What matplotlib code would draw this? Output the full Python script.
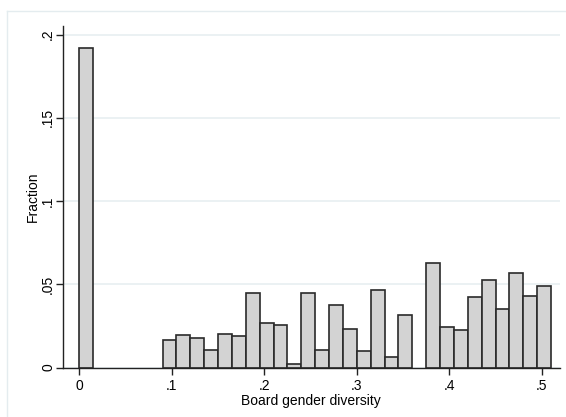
import numpy as np
import matplotlib
matplotlib.use("Agg")
import matplotlib.pyplot as plt
from matplotlib.lines import Line2D

# histogram of board gender diversity, bin width .015 starting at 0
bin_start = 0.0
bin_width = 0.015
fractions = [0.192, 0, 0, 0, 0, 0,
             0.0165, 0.0195, 0.0179, 0.0103, 0.0199, 0.0191,
             0.0447, 0.0269, 0.0253, 0.0023, 0.0447, 0.0103,
             0.0375, 0.0231, 0.0099, 0.0465, 0.0063, 0.0313,
             0, 0.0626, 0.0241, 0.0225, 0.0423, 0.0526,
             0.0353, 0.0570, 0.0429, 0.0488]

x_ticks = [0, 0.1, 0.2, 0.3, 0.4, 0.5]
x_ticklabels = ["0", ".1", ".2", ".3", ".4", ".5"]
y_ticks = [0, 0.05, 0.1, 0.15, 0.2]
y_ticklabels = ["0", ".05", ".1", ".15", ".2"]

plt.rcParams['font.family'] = ['Liberation Sans', 'DejaVu Sans']

fig = plt.figure(figsize=(5.66, 4.17), dpi=100)
# light outer frame of the graph region (top and left edges only visible)
frame = '#e4ecef'
fig.lines.append(Line2D([7 / 566, 1.0], [1 - 11 / 417, 1 - 11 / 417],
                        transform=fig.transFigure, color=frame, lw=1.0))
fig.lines.append(Line2D([7 / 566, 7 / 566], [0.0, 1 - 11 / 417],
                        transform=fig.transFigure, color=frame, lw=1.0))
ax = fig.add_axes([0.1108, 0.1187, 0.8786, 0.8189])

lefts = bin_start + bin_width * np.arange(len(fractions))
heights = np.array(fractions)
keep = heights > 0  # empty bins are not drawn
ax.bar(lefts[keep], heights[keep], width=bin_width, align='edge',
       color='#d3d3d3', edgecolor='#2a2a2a', linewidth=1.2, zorder=3)

ax.set_xlim(-0.018, 0.5197)
ax.set_ylim(0, 0.2051)
ax.set_xticks(x_ticks)
ax.set_xticklabels(x_ticklabels, fontsize=10)
ax.set_yticks(y_ticks)
ax.set_yticklabels(y_ticklabels, fontsize=10, rotation=90, va='center')
ax.tick_params(axis='both', length=5, width=1, color='#222222')
ax.tick_params(axis='x', pad=3)
ax.tick_params(axis='y', pad=0.5)
ax.grid(axis='y', color='#e8eff1', linewidth=1.2, zorder=0)
ax.set_axisbelow(True)

for side in ['top', 'right']:
    ax.spines[side].set_visible(False)
for side in ['left', 'bottom']:
    ax.spines[side].set_color('#222222')
    ax.spines[side].set_linewidth(1.0)
ax.spines['bottom'].set_zorder(4)

ax.set_xlabel("Board gender diversity", fontsize=10, labelpad=1)
ax.set_ylabel("Fraction", fontsize=10, labelpad=1)

fig.savefig("out.png", dpi=100, facecolor='white')
